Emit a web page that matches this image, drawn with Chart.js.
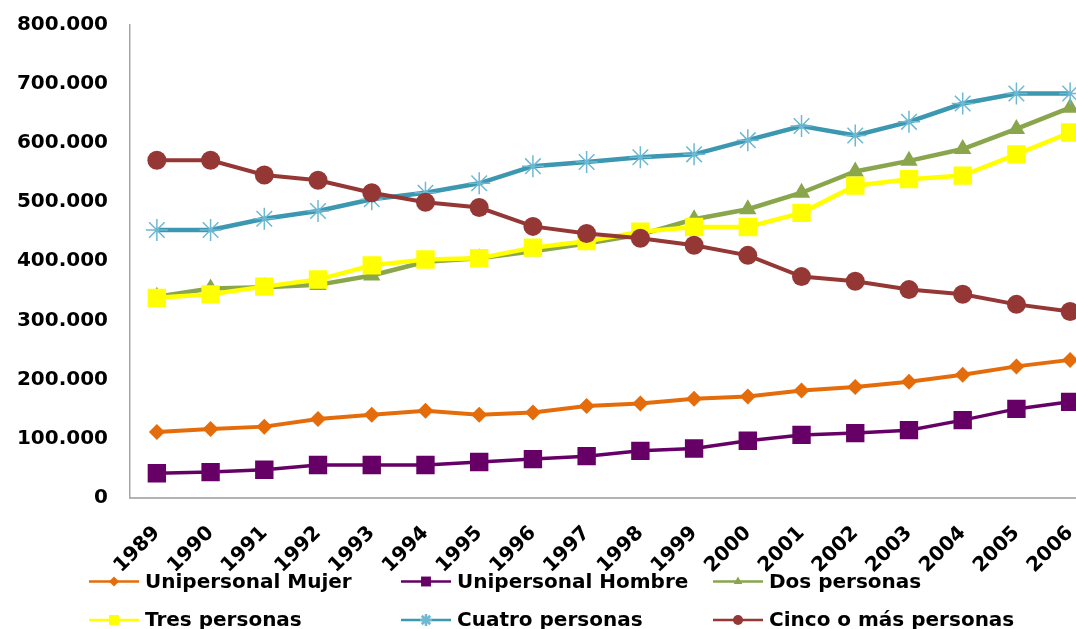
<!DOCTYPE html>
<html>
<head>
<meta charset="utf-8">
<script src="https://cdn.jsdelivr.net/npm/chart.js@4/dist/chart.umd.min.js"></script>
<style>
  html, body { margin: 0; padding: 0; background: #fff; }
  #marco { width: 1076px; height: 629px; overflow: hidden; }
</style>
</head>
<body>
<div id="marco"><canvas id="grafico" width="1110" height="629"></canvas></div>
<script>
// datos (hogares por tamaño, 1989-2006)
const anios = ['1989', '1990', '1991', '1992', '1993', '1994', '1995', '1996', '1997',
  '1998', '1999', '2000', '2001', '2002', '2003', '2004', '2005', '2006'];

const uniMujer = [111000, 116000, 120000, 133000, 140000, 147000, 140000, 144000, 155000,
  159000, 167000, 171000, 181000, 187000, 196000, 208000, 222000, 233000];
const uniHombre = [41000, 43000, 47000, 55000, 55000, 55000, 60000, 65000, 70000,
  79000, 83000, 96000, 106000, 109000, 114000, 131000, 150000, 162000];
const dosPersonas = [340000, 354000, 356000, 360000, 376000, 399000, 405000, 417000, 430000,
  445000, 471000, 488000, 516000, 552000, 570000, 590000, 624000, 660000];
const tresPersonas = [338000, 344000, 357000, 369000, 393000, 403000, 405000, 423000, 434000,
  450000, 458000, 458000, 482000, 528000, 539000, 545000, 581000, 618000];
const cuatroPersonas = [453000, 453000, 472000, 485000, 505000, 516000, 532000, 561000, 568000,
  576000, 581000, 605000, 629000, 613000, 636000, 667000, 684000, 684000];
const cincoPersonas = [571000, 571000, 546000, 537000, 516000, 500000, 491000, 459000, 447000,
  439000, 427000, 410000, 374000, 366000, 352000, 344000, 327000, 315000];

const nombres = ['Unipersonal Mujer', 'Unipersonal Hombre', 'Dos personas',
  'Tres personas', 'Cuatro personas', 'Cinco o más personas'];

Chart.defaults.font.family = "'DejaVu Sans', Verdana, sans-serif";
Chart.defaults.font.weight = 'bold';
Chart.defaults.font.size = 20;
Chart.defaults.color = '#000';

function serie(i, datos, linea, relleno, borde, estilo, radio, grosor) {
  return {
    label: nombres[i],
    data: datos,
    borderColor: linea,
    borderWidth: grosor,
    backgroundColor: relleno,
    pointBackgroundColor: relleno,
    pointBorderColor: borde,
    pointBorderWidth: estilo == 'star' ? 1.5 : 0,
    pointStyle: estilo,
    pointRadius: radio,
    pointHoverRadius: radio,
    tension: 0,
    order: 5 - i,  // la ultima serie queda encima
    // tamaño del marcador en la leyenda
    radioLeyenda: estilo == 'rect' ? 7 : (estilo == 'star' ? 6 : 5)
  };
}

function formatoMiles(v) {
  return String(v).replace(/\B(?=(\d{3})+(?!\d))/g, '.');
}

// leyenda dibujada a mano: linea + marcador, en tres columnas
const leyendaExcel = {
  id: 'leyendaExcel',
  afterDraw(chart) {
    const ctx = chart.ctx;
    const base = chart.chartArea.bottom;
    chart.data.datasets.forEach((ds, i) => {
      const col = i % 3;
      const fila = Math.floor(i / 3);
      const x = 89 + col * 312;
      const y = base + 84 + fila * 38.5;
      ctx.save();
      ctx.strokeStyle = ds.borderColor;
      ctx.lineWidth = 2.5;
      ctx.beginPath();
      ctx.moveTo(x, y);
      ctx.lineTo(x + 50, y);
      ctx.stroke();
      ctx.fillStyle = ds.pointBackgroundColor;
      ctx.strokeStyle = ds.pointBorderColor;
      Chart.helpers.drawPoint(ctx, {
        pointStyle: ds.pointStyle,
        rotation: 0,
        radius: ds.radioLeyenda,
        borderWidth: ds.pointStyle == 'star' ? 1.5 : 0
      }, x + 25, y);
      ctx.fillStyle = '#000';
      ctx.font = "bold 20px 'DejaVu Sans', Verdana, sans-serif";
      ctx.textBaseline = 'middle';
      ctx.textAlign = 'left';
      ctx.fillText(ds.label, x + 56, y + 1);
      ctx.restore();
    });
  }
};

const ctx = document.getElementById('grafico');
const grafico = new Chart(ctx, {
  type: 'line',
  data: {
    labels: anios,
    datasets: [
      serie(0, uniMujer, '#E46C0A', '#E46C0A', '#E46C0A', 'rectRot', 8, 4),
      serie(1, uniHombre, '#660066', '#660066', '#660066', 'rect', 13, 3.5),
      serie(2, dosPersonas, '#8AA64C', '#8AA64C', '#8AA64C', 'triangle', 10, 4.5),
      serie(3, tresPersonas, '#FFFF00', '#FFFF00', '#FFFF00', 'rect', 13, 4.5),
      serie(4, cuatroPersonas, '#3C97B0', '#3C97B0', '#6DB8D2', 'star', 11, 4.5),
      serie(5, cincoPersonas, '#953735', '#953735', '#953735', 'circle', 9.5, 4)
    ]
  },
  options: {
    responsive: false,
    animation: false,
    layout: { padding: { top: 25, right: 0, left: 0, bottom: 0 } },
    plugins: {
      legend: { display: false },
      tooltip: { enabled: false }
    },
    scales: {
      x: {
        offset: true,
        grid: { display: false, drawTicks: false },
        border: { display: true, color: '#B3B3B3', width: 2 },
        ticks: {
          autoSkip: false,
          maxRotation: 45,
          minRotation: 45,
          padding: 24
        },
        afterFit: (s) => {
          s.height = 131.5;
          s.paddingLeft = 0;
          s.paddingRight = 0;
        }
      },
      y: {
        min: 0,
        max: 800000,
        grid: { display: false, drawTicks: false },
        border: { display: true, color: '#A6A6A6', width: 1.5 },
        ticks: {
          stepSize: 100000,
          padding: 22,
          callback: (v) => formatoMiles(v)
        },
        afterFit: (s) => {
          s.width = 130;
          s.paddingTop = 0;
          s.paddingBottom = 0;
        }
      }
    }
  },
  plugins: [leyendaExcel]
});
</script>
</body>
</html>
